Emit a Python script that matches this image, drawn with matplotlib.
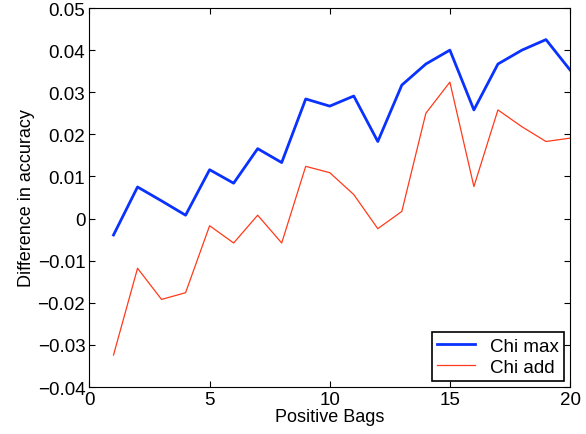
import numpy as np
import matplotlib as mpl
mpl.use('Agg')
import matplotlib.pyplot as plt

mpl.rcParams['font.family'] = ['Liberation Sans', 'DejaVu Sans']

bags = list(range(1, 21))
chi_max = [-0.0039, 0.0075, 0.0042, 0.0008, 0.0116, 0.0084, 0.0166, 0.0133, 0.0284, 0.0267,
           0.0291, 0.0183, 0.0317, 0.0367, 0.0400, 0.0258, 0.0367, 0.0400, 0.0425, 0.0353]
chi_add = [-0.0324, -0.0118, -0.0192, -0.0176, -0.0017, -0.0058, 0.0008, -0.0058, 0.0124, 0.0109,
           0.0057, -0.0024, 0.0017, 0.0250, 0.0324, 0.0076, 0.0258, 0.0218, 0.0183, 0.0191]
yticks = [-0.04, -0.03, -0.02, -0.01, 0, 0.01, 0.02, 0.03, 0.04, 0.05]
ytick_labels = ['\u22120.04', '\u22120.03', '\u22120.02', '\u22120.01', '0',
                '0.01', '0.02', '0.03', '0.04', '0.05']

fig = plt.figure(figsize=(5.86, 4.35), dpi=100)
ax = fig.add_axes([0.1527, 0.108, 0.82, 0.8713])
ax.plot(bags, chi_max, color='#0a32ff', lw=2.0, label='Chi max')
ax.plot(bags, chi_add, color='#ff3a1a', lw=0.9, label='Chi add')
ax.set_xlim(0, 20)
ax.set_ylim(-0.04, 0.05)
ax.set_xticks(np.arange(0, 21, 5))
ax.set_yticks(yticks)
ax.set_yticklabels(ytick_labels)
ax.tick_params(direction='in', top=True, right=True, labelsize=13.5, length=4, pad=3)
ax.set_xlabel('Positive Bags', fontsize=13, labelpad=0)
ax.set_ylabel('Difference in accuracy', fontsize=13, labelpad=2)
leg = ax.legend(loc='lower right', fontsize=13.5, fancybox=False, borderaxespad=0.3,
                handlelength=2.0, framealpha=1, borderpad=0.3, labelspacing=0.2)
leg.get_frame().set_edgecolor('black')
leg.get_frame().set_linewidth(1.2)
fig.savefig('out.png', dpi=100)
